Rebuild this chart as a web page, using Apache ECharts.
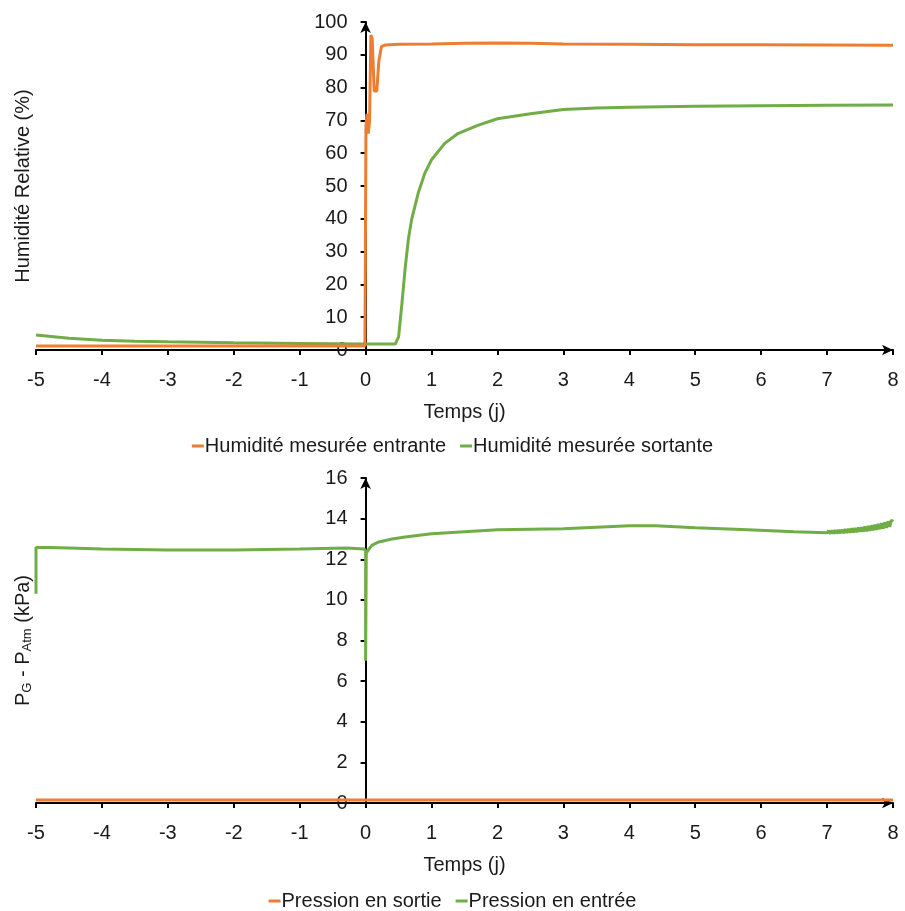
<!DOCTYPE html>
<html><head><meta charset="utf-8">
<script src="https://cdn.jsdelivr.net/npm/echarts@6/dist/echarts.min.js"></script>
<style>html,body{margin:0;padding:0;background:#fff}#c{width:905px;height:911px}</style>
</head><body><div id="c"></div>
<script>
// Top chart: relative humidity (%) vs time (days)
const hrInT = [-5, -4, -3, -2, -1, -0.01, 0, 0.005, 0.02, 0.04, 0.06, 0.08, 0.1, 0.13, 0.17, 0.2, 0.24, 0.3, 0.5, 1, 1.5, 2, 2.5, 3, 4, 5, 6, 7, 8];
const hrInV = [1.2, 1.2, 1.2, 1.2, 1.2, 1.2, 1.2, 68, 72, 66, 70, 96, 95, 79, 79, 88, 92.5, 93, 93.2, 93.3, 93.5, 93.6, 93.5, 93.3, 93.2, 93.1, 93.1, 93.0, 92.9];
const hrOutT = [-5, -4.5, -4, -3.5, -3, -2, -1, 0, 0.45, 0.5, 0.55, 0.6, 0.65, 0.7, 0.8, 0.9, 1.0, 1.2, 1.4, 1.7, 2, 2.5, 3, 3.5, 4, 5, 6, 7, 8];
const hrOutV = [4.6, 3.6, 3.0, 2.7, 2.5, 2.2, 2.0, 1.8, 1.8, 4, 14, 25, 34, 40, 48, 54, 58, 63, 66, 68.5, 70.5, 72, 73.3, 73.8, 74, 74.3, 74.5, 74.6, 74.7];
// Bottom chart: pressure difference (kPa) vs time (days)
const pOutT = [-5, -4, -3, -2, -1, 0, 1, 2, 3, 4, 5, 6, 7, 8];
const pOutV = [0.15, 0.15, 0.15, 0.15, 0.15, 0.15, 0.15, 0.15, 0.15, 0.15, 0.15, 0.15, 0.15, 0.15];
const pInT = [-5, -5, -4.8, -4.5, -4, -3, -2, -1, -0.3, -0.02, 0, 0, 0.01, 0.05, 0.1, 0.2, 0.4, 0.6, 1, 1.5, 2, 3, 4, 4.4, 5, 5.8, 6.5,
  7.000, 7.025, 7.050, 7.075, 7.100, 7.125, 7.150, 7.175, 7.200, 7.225, 7.250, 7.275, 7.300, 7.325, 7.350, 7.375, 7.400, 7.425, 7.450, 7.475,
  7.500, 7.525, 7.550, 7.575, 7.600, 7.625, 7.650, 7.675, 7.700, 7.725, 7.750, 7.775, 7.800, 7.825, 7.850, 7.875, 7.900, 7.925, 7.950, 7.975, 8.000];
const pInV = [10.3, 12.58, 12.58, 12.55, 12.5, 12.45, 12.45, 12.5, 12.55, 12.5, 12.4, 7.0, 12.3, 12.5, 12.7, 12.85, 13.0, 13.1, 13.25, 13.35, 13.45, 13.5, 13.65, 13.65, 13.55, 13.45, 13.35,
  13.30, 13.40, 13.26, 13.42, 13.27, 13.43, 13.27, 13.45, 13.28, 13.46, 13.29, 13.48, 13.30, 13.50, 13.31, 13.52, 13.32, 13.54, 13.33, 13.56,
  13.35, 13.58, 13.36, 13.61, 13.38, 13.64, 13.40, 13.67, 13.42, 13.70, 13.45, 13.74, 13.48, 13.78, 13.51, 13.82, 13.55, 13.87, 13.59, 13.93, 13.85];

const xTicks = { min: -5, max: 8, interval: 1 };
const topY = { min: 0, max: 100, interval: 10 };
const botY = { min: 0, max: 16, interval: 2 };

const zip = (t, v) => t.map((x, i) => [x, v[i]]);
const ORANGE = '#ED7D31', GREEN = '#70AD47';
const FONT = 'Liberation Sans, Arial, sans-serif';
const TXT = '#1a1a1a';
const GRID_LEFT = 36, GRID_RIGHT = 12;
const PLOT_W = 905 - GRID_LEFT - GRID_RIGHT;
// y axis drawn where x = 0 (moved inward from the grid's left edge)
const Y_OFFSET = -PLOT_W * (0 - xTicks.min) / (xTicks.max - xTicks.min);

function xAxis(gridIndex) {
  return {
    type: 'value', gridIndex, min: xTicks.min, max: xTicks.max, interval: xTicks.interval,
    name: 'Temps (j)', nameLocation: 'middle', nameGap: 52,
    nameTextStyle: { fontFamily: FONT, fontSize: 20, color: TXT },
    axisLine: { onZero: false, symbol: ['none', 'arrow'], symbolSize: [8, 11], lineStyle: { color: '#000', width: 2 } },
    axisTick: { show: true, length: 5, lineStyle: { color: '#000', width: 2 } },
    axisLabel: { fontFamily: FONT, fontSize: 20, color: TXT, margin: 20 },
    splitLine: { show: false }
  };
}
function yAxis(gridIndex, s, name, rich) {
  return {
    type: 'value', gridIndex, min: s.min, max: s.max, interval: s.interval,
    position: 'left', offset: Y_OFFSET,
    name, nameLocation: 'middle', nameGap: 332, nameRotate: 90,
    nameTextStyle: Object.assign({ fontFamily: FONT, fontSize: 20, color: TXT }, rich ? { rich } : {}),
    axisLine: { onZero: false, symbol: ['none', 'arrow'], symbolSize: [8, 11], lineStyle: { color: '#000', width: 2 } },
    axisTick: { show: true, length: 5, lineStyle: { color: '#000', width: 2 } },
    axisLabel: { fontFamily: FONT, fontSize: 20, color: TXT, margin: 18 },
    splitLine: { show: false }
  };
}

const chart = echarts.init(document.getElementById('c'));
chart.setOption({
  animation: false,
  backgroundColor: '#fff',
  grid: [
    { left: GRID_LEFT, right: GRID_RIGHT, top: 22, height: 328, containLabel: false, outerBoundsMode: 'none' },
    { left: GRID_LEFT, right: GRID_RIGHT, top: 478, height: 325, containLabel: false, outerBoundsMode: 'none' }
  ],
  xAxis: [xAxis(0), xAxis(1)],
  yAxis: [
    yAxis(0, topY, 'Humidité Relative (%)'),
    yAxis(1, botY, 'P{s|G} - P{s|Atm} (kPa)', {
      s: { fontFamily: FONT, fontSize: 13, color: TXT, verticalAlign: 'bottom', lineHeight: 14 }
    })
  ],
  legend: [
    { top: 431, left: 'center', itemWidth: 12, itemHeight: 3, itemGap: 14, icon: 'rect',
      textStyle: { fontFamily: FONT, fontSize: 20, color: TXT, padding: [0, 0, 0, -4] },
      data: ['Humidité mesurée entrante', 'Humidité mesurée sortante'] },
    { top: 886, left: 'center', itemWidth: 12, itemHeight: 3, itemGap: 14, icon: 'rect',
      textStyle: { fontFamily: FONT, fontSize: 20, color: TXT, padding: [0, 0, 0, -4] },
      data: ['Pression en sortie', 'Pression en entrée'] }
  ],
  series: [
    { name: 'Humidité mesurée entrante', type: 'line', xAxisIndex: 0, yAxisIndex: 0, showSymbol: false,
      lineStyle: { color: ORANGE, width: 3 }, itemStyle: { color: ORANGE }, data: zip(hrInT, hrInV), z: 3 },
    { name: 'Humidité mesurée sortante', type: 'line', xAxisIndex: 0, yAxisIndex: 0, showSymbol: false,
      lineStyle: { color: GREEN, width: 3 }, itemStyle: { color: GREEN }, data: zip(hrOutT, hrOutV), z: 2 },
    { name: 'Pression en sortie', type: 'line', xAxisIndex: 1, yAxisIndex: 1, showSymbol: false,
      lineStyle: { color: ORANGE, width: 3 }, itemStyle: { color: ORANGE }, data: zip(pOutT, pOutV), z: 3 },
    { name: 'Pression en entrée', type: 'line', xAxisIndex: 1, yAxisIndex: 1, showSymbol: false,
      lineStyle: { color: GREEN, width: 3 }, itemStyle: { color: GREEN }, data: zip(pInT, pInV), z: 2 }
  ]
});
</script>
</body></html>
